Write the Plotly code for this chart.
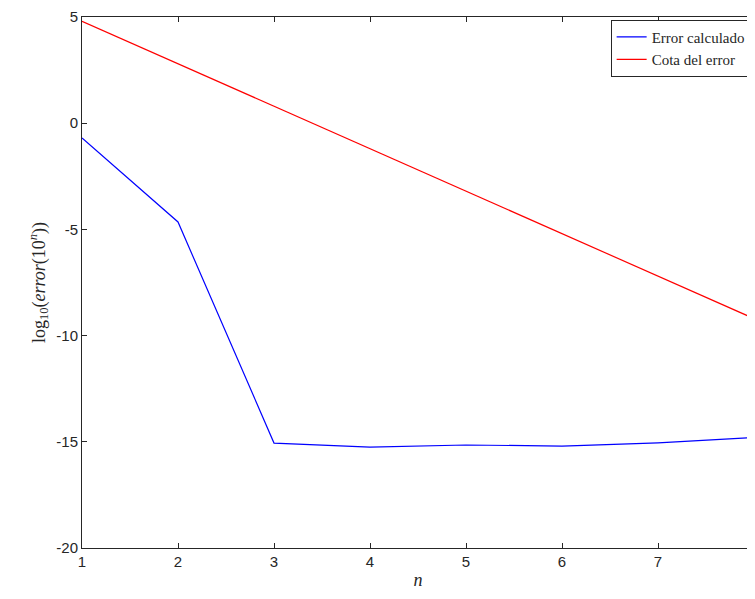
import plotly.graph_objects as go

n = [1, 2, 3, 4, 5, 6, 7, 8]
error_calculado = [-0.7, -4.65, -15.06, -15.25, -15.15, -15.2, -15.05, -14.8]
cota_error = [4.8, 2.8, 0.8, -1.2, -3.2, -5.2, -7.2, -9.2]
y_ticks = [-20, -15, -10, -5, 0, 5]
y_tick_labels = ["-20", "-15", "-10", "-5", "0", "5"]

fig = go.Figure()
fig.add_trace(go.Scatter(x=n, y=error_calculado, mode="lines", name="Error calculado",
                         line={"color": "blue", "width": 1.2}))
fig.add_trace(go.Scatter(x=n, y=cota_error, mode="lines", name="Cota del error",
                         line={"color": "red", "width": 1.2}))

axis_common = dict(showline=True, linecolor="#262626", linewidth=1, mirror="ticks",
                   ticks="inside", ticklen=5, tickcolor="#262626", showgrid=False,
                   zeroline=False, automargin=False,
                   tickfont={"family": "Liberation Sans, Arial", "size": 15, "color": "#262626"})
title_font = {"family": "Liberation Serif, Times New Roman", "size": 18, "color": "#262626"}
fig.update_layout(
    width=755, height=599,
    margin={"l": 74, "r": 9, "t": 9, "b": 59},
    plot_bgcolor="white", paper_bgcolor="white",
    xaxis=dict(range=[1, 8], tickvals=n,
               title={"text": "<i>n</i>", "standoff": 4, "font": title_font},
               **axis_common),
    yaxis=dict(range=[-20, 5], tickvals=y_ticks, ticktext=y_tick_labels,
               title={"text": "log<sub>10</sub>(<i>error</i>(10<sup><i>n</i></sup>))",
                      "standoff": 6, "font": title_font},
               **axis_common),
    legend=dict(x=0.995, y=0.995, xanchor="right", yanchor="top",
                bordercolor="#262626", borderwidth=1, bgcolor="white",
                font={"family": "Liberation Serif, Times New Roman", "size": 15, "color": "#262626"}),
    showlegend=True,
)
fig.write_html("out.html")
